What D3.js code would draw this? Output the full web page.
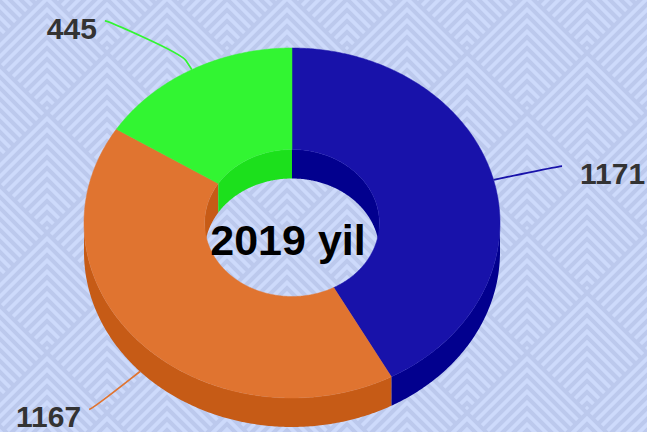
<!DOCTYPE html>
<html>
<head>
<meta charset="utf-8">
<script src="https://cdn.jsdelivr.net/npm/d3@7"></script>
<style>
  body { margin: 0; }
  svg { display: block; }
</style>
</head>
<body>
<svg id="chart"></svg>
<script>
// chart data
const values = [1171, 1167, 445];
const topColors = ['#1812aa', '#e07430', '#32f532'];
const sideColors = ['#02008e', '#c65b16', '#1ce01c'];
const centerTitle = '2019 yil';

const width = 647, height = 432;
const cx = 292, cy = 223;
const rx = 208, ry = 175;          // outer ellipse of the top face
const innerRatio = 0.42;
const depth = 29;
const tilt = ry / rx;
const labelR = 274;

const svg = d3.select('#chart')
  .attr('width', width)
  .attr('height', height);

// background with chevron pattern
const defs = svg.append('defs');
const pat = defs.append('pattern')
  .attr('id', 'bgPat')
  .attr('patternUnits', 'userSpaceOnUse')
  .attr('width', 120)
  .attr('height', 120)
  .attr('x', -13)
  .attr('y', -7);
pat.append('rect').attr('width', 120).attr('height', 120).attr('fill', '#cddafb');
// diamonds centred on a 45deg lattice, each filled with nested chevrons
[[0, 0], [120, 0], [60, 60], [0, 120], [120, 120]].forEach(([dx, dy]) => {
  for (let k = 0; k < 11; k++) {
    const ay = dy - 60 + k * 11;      // apex of this chevron
    const half = (120 - k * 11) / 2;  // arm length until it meets the lower edges
    if (half <= 0) continue;
    pat.append('path')
      .attr('d', `M${dx - half},${ay + half} L${dx},${ay} L${dx + half},${ay + half}`)
      .attr('fill', 'none')
      .attr('stroke', '#bcc9ed')
      .attr('stroke-width', 4);
  }
});
svg.append('rect').attr('width', width).attr('height', height).attr('fill', 'url(#bgPat)');

// pie angles, clockwise from 12 o'clock
const pie = d3.pie().sort(null).startAngle(0).endAngle(2 * Math.PI);
const arcs = pie(values);

const proj = (a, r, h) => [cx + r * Math.sin(a), cy - r * tilt * Math.cos(a) + h];

function arcPts(a0, a1, r, h) {
  const n = Math.max(2, Math.ceil(Math.abs(a1 - a0) / 0.01));
  return d3.range(n + 1).map(i => proj(a0 + (a1 - a0) * i / n, r, h));
}

function band(a0, a1, r0, h0, r1, h1) {
  const pts = arcPts(a0, a1, r0, h0).concat(arcPts(a1, a0, r1, h1));
  return d3.line()(pts) + 'Z';
}

// angular overlap of [a0,a1] with [lo,hi]
function clip(a0, a1, lo, hi) {
  const s = Math.max(a0, lo), e = Math.min(a1, hi);
  return s < e ? [s, e] : null;
}

const rIn = rx * innerRatio;
const g = svg.append('g');

// outer walls (front half)
arcs.forEach((d, i) => {
  const seg = clip(d.startAngle, d.endAngle, Math.PI / 2, 3 * Math.PI / 2);
  if (!seg) return;
  g.append('path')
    .attr('d', band(seg[0], seg[1], rx, 0, rx, depth))
    .attr('fill', sideColors[i]);
});

// inner walls (back half, seen through the hole)
arcs.forEach((d, i) => {
  [[-0.01, Math.PI / 2], [3 * Math.PI / 2, 2 * Math.PI + 0.01]].forEach(([lo, hi]) => {
    const seg = clip(d.startAngle, d.endAngle, lo, hi);
    if (!seg) return;
    g.append('path')
      .attr('d', band(seg[0], seg[1], rIn, 0, rIn, depth))
      .attr('fill', sideColors[i]);
  });
});

// top faces
arcs.forEach((d, i) => {
  g.append('path')
    .attr('d', band(d.startAngle, d.endAngle, rx, 0, rIn, 0))
    .attr('fill', topColors[i])
    .attr('stroke', topColors[i])
    .attr('stroke-width', 0.5);
});

// data labels with soft connectors
arcs.forEach((d, i) => {
  const a = (d.startAngle + d.endAngle) / 2;
  const front = Math.cos(a) < 0;
  const dep = front ? depth : 0;
  const right = Math.sin(a) >= 0;
  const ly = cy - labelR * tilt * Math.cos(a) + dep;
  const lx = cx + (right ? 1 : -1) * Math.sqrt(labelR * labelR - (ly - cy) * (ly - cy));
  const [ax, ay] = proj(a, rx, dep);
  const [bx, by] = proj(a, rx + 12, dep);
  const path = d3.path();
  path.moveTo(lx + (right ? 2 : -2), ly);
  path.bezierCurveTo(lx, ly, 2 * bx - ax, 2 * by - ay, bx, by);
  path.lineTo(ax, ay);
  svg.append('path')
    .attr('d', path.toString())
    .attr('fill', 'none')
    .attr('stroke', topColors[i])
    .attr('stroke-width', 1.8);
  svg.append('text')
    .attr('x', right ? lx + 20 : lx - 10)
    .attr('y', ly + 18)
    .attr('text-anchor', right ? 'start' : 'end')
    .attr('font-family', 'Liberation Sans, Arial, sans-serif')
    .attr('font-weight', 'bold')
    .attr('font-size', 30)
    .attr('fill', '#333333')
    .text(values[i]);
});

// centre title
svg.append('text')
  .attr('x', cx - 4)
  .attr('y', 255)
  .attr('text-anchor', 'middle')
  .attr('font-family', 'Liberation Sans, Arial, sans-serif')
  .attr('font-weight', 'bold')
  .attr('font-size', 43)
  .attr('fill', '#000000')
  .text(centerTitle);
</script>
</body>
</html>
